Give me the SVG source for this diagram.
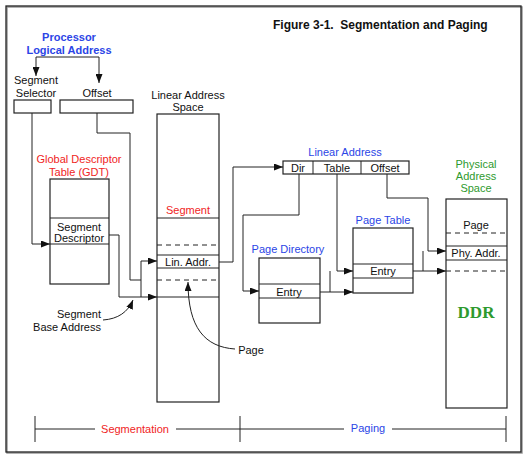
<svg xmlns="http://www.w3.org/2000/svg" width="530" height="460" viewBox="0 0 530 460">
<style>
text{font-family:"Liberation Sans",Arial,sans-serif;font-size:11px;fill:#111;text-anchor:middle}
.t{font-size:12px;font-weight:bold;text-anchor:start;white-space:pre}
.bb{font-weight:bold;fill:#2b45e6}
.blue{fill:#2b45e6}
.red{fill:#f02424}
.green{fill:#2e9a2e}
.ddr{font-family:"Liberation Serif","Times New Roman",serif;font-weight:bold;font-size:17px;fill:#2e9a2e}
.box{fill:#fff;stroke:#222;stroke-width:1.2}
.ln{stroke:#222;stroke-width:1;fill:none}
.dash{stroke:#222;stroke-width:1;stroke-dasharray:5,4;fill:none}
.c{stroke:#222;stroke-width:1;fill:none}
.ca{stroke:#222;stroke-width:1;fill:none;marker-end:url(#ah)}
</style>
<defs>
<marker id="ah" markerUnits="userSpaceOnUse" markerWidth="9" markerHeight="7" refX="9" refY="3.5" orient="auto">
<path d="M0,0 L9,3.5 L0,7 z" fill="#111"/>
</marker>
</defs>
<rect x="0" y="0" width="530" height="460" fill="#fff"/>
<rect x="7" y="7" width="515" height="446" fill="none" stroke="#999" stroke-width="1.5"/>
<rect x="6" y="6" width="515" height="446" fill="none" stroke="#222" stroke-width="1.3"/>
<text class="t" x="273" y="29" xml:space="preserve">Figure 3-1.  Segmentation and Paging</text>

<g id="processor">
<text class="bb" x="69" y="41">Processor</text>
<text class="bb" x="69" y="54">Logical Address</text>
</g>
<g id="segment-selector">
<text x="36" y="84">Segment</text>
<text x="36" y="97">Selector</text>
<rect class="box" x="14" y="100" width="37" height="13"/>
</g>
<g id="offset">
<text x="97" y="97">Offset</text>
<rect class="box" x="60" y="100" width="73" height="13"/>
</g>
<g id="gdt">
<text class="red" x="79" y="163">Global Descriptor</text>
<text class="red" x="79" y="176">Table (GDT)</text>
<rect class="box" x="50" y="179" width="59" height="105"/>
<line class="ln" x1="50" y1="218" x2="109" y2="218"/>
<line class="ln" x1="50" y1="244" x2="109" y2="244"/>
<text x="79" y="231">Segment</text>
<text x="79" y="242">Descriptor</text>
</g>
<g id="linear-address-space">
<text x="188" y="99">Linear Address</text>
<text x="188" y="111">Space</text>
<rect class="box" x="157" y="114" width="62" height="288"/>
<text class="red" x="188" y="214">Segment</text>
<line class="ln" x1="157" y1="218" x2="219" y2="218"/>
<line class="dash" x1="157" y1="245" x2="219" y2="245"/>
<line class="ln" x1="157" y1="255" x2="219" y2="255"/>
<text x="188" y="266">Lin. Addr.</text>
<line class="ln" x1="157" y1="268" x2="219" y2="268"/>
<line class="dash" x1="157" y1="280" x2="219" y2="280"/>
<line class="ln" x1="157" y1="297" x2="219" y2="297"/>
</g>
<g id="linear-address">
<text class="blue" x="345" y="156">Linear Address</text>
<rect class="box" x="283" y="161" width="126" height="13"/>
<line class="ln" x1="313" y1="161" x2="313" y2="174"/>
<line class="ln" x1="361" y1="161" x2="361" y2="174"/>
<text x="298" y="171.5">Dir</text>
<text x="337" y="171.5">Table</text>
<text x="385" y="171.5">Offset</text>
</g>
<g id="page-directory">
<text class="blue" x="288" y="253">Page Directory</text>
<rect class="box" x="259" y="258" width="61" height="65"/>
<line class="ln" x1="259" y1="284" x2="320" y2="284"/>
<line class="ln" x1="259" y1="298" x2="320" y2="298"/>
<text x="289" y="295.5">Entry</text>
</g>
<g id="page-table">
<text class="blue" x="383" y="224">Page Table</text>
<rect class="box" x="353" y="228" width="60" height="65"/>
<line class="ln" x1="353" y1="264" x2="413" y2="264"/>
<line class="ln" x1="353" y1="278" x2="413" y2="278"/>
<text x="383" y="275">Entry</text>
</g>
<g id="physical-address-space">
<text class="green" x="476" y="168">Physical</text>
<text class="green" x="476" y="180">Address</text>
<text class="green" x="476" y="192">Space</text>
<rect class="box" x="446" y="199" width="61" height="209"/>
<text x="476" y="229">Page</text>
<line class="dash" x1="446" y1="233" x2="507" y2="233"/>
<line class="ln" x1="446" y1="246" x2="507" y2="246"/>
<text x="476" y="257">Phy. Addr.</text>
<line class="ln" x1="446" y1="260" x2="507" y2="260"/>
<line class="dash" x1="446" y1="271" x2="507" y2="271"/>
<text class="ddr" x="476" y="318">DDR</text>
</g>
<g id="labels">
<text x="79" y="318">Segment</text>
<text x="67" y="331">Base Address</text>
<text x="251" y="354">Page</text>
</g>
<g id="connectors">
<path class="ca" d="M68,57 H36 V76"/>
<path class="ca" d="M68,57 H99 V83"/>
<path class="ca" d="M32,113 V244 H50"/>
<path class="c" d="M97,113 V133 H130 V280 H141"/>
<path class="ca" d="M109,235 H119 V297 H157"/>
<path class="ca" d="M141,297 V261 H157"/>
<path class="ca" d="M219,262 H233 V167 H283"/>
<path class="ca" d="M299,174 V215 H243 V291 H259"/>
<path class="ca" d="M337,174 V271 H353"/>
<path class="ca" d="M320,292 H353"/>
<path class="c" d="M330,292 V271"/>
<path class="ca" d="M387,174 V198 H428 V251 H446"/>
<path class="ca" d="M413,271 H446"/>
<path class="c" d="M423,271 V251"/>
<path class="ca" d="M103,320 C118,319 128,312 133,300"/>
<path class="ca" d="M235,349 C205,347 188,328 188,282"/>
</g>
<g id="scale">
<line class="ln" x1="35" y1="416" x2="35" y2="442"/>
<line class="ln" x1="240" y1="416" x2="240" y2="442"/>
<line class="ln" x1="506" y1="416" x2="506" y2="442"/>
<line class="ln" x1="35" y1="429" x2="95" y2="429"/>
<line class="ln" x1="176" y1="429" x2="240" y2="429"/>
<line class="ln" x1="240" y1="429" x2="344" y2="429"/>
<line class="ln" x1="392" y1="429" x2="506" y2="429"/>
<text class="red" x="135" y="433">Segmentation</text>
<text class="blue" x="368" y="432">Paging</text>
</g>
</svg>
